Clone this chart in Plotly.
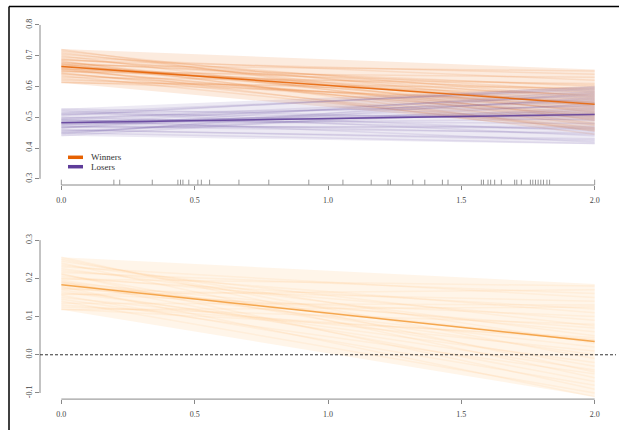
import plotly.graph_objects as go

# ---------------- data ----------------
x_ends = [0.0, 2.0]

series_names = ["Winners", "Losers"]

win_mean = [0.665, 0.542]
lose_mean = [0.482, 0.509]
diff_mean = [0.183, 0.035]

# outer envelopes (lower/upper at x=0 and x=2)
win_band_lo = [0.612, 0.455]
win_band_hi = [0.722, 0.655]
lose_band_lo = [0.440, 0.412]
lose_band_hi = [0.528, 0.600]
diff_band_lo = [0.118, -0.110]
diff_band_hi = [0.255, 0.185]

win_start = [0.665, 0.672, 0.658, 0.680, 0.650, 0.690, 0.640, 0.700, 0.630, 0.675, 0.655, 0.668,
             0.662, 0.685, 0.645, 0.710, 0.620, 0.695, 0.635, 0.678, 0.652, 0.715, 0.615, 0.670,
             0.660, 0.688, 0.642, 0.705, 0.625, 0.674, 0.656, 0.720, 0.612, 0.683, 0.648, 0.667]
win_end = [0.545, 0.520, 0.570, 0.500, 0.590, 0.560, 0.525, 0.480, 0.610, 0.600, 0.495, 0.555,
           0.530, 0.640, 0.465, 0.515, 0.575, 0.620, 0.460, 0.580, 0.510, 0.535, 0.550, 0.650,
           0.445, 0.585, 0.505, 0.565, 0.540, 0.475, 0.605, 0.490, 0.595, 0.455, 0.630, 0.548]

lose_start = [0.482, 0.490, 0.475, 0.500, 0.465, 0.510, 0.455, 0.520, 0.445, 0.495, 0.470, 0.485,
              0.478, 0.505, 0.460, 0.528, 0.440, 0.515, 0.450, 0.492, 0.468, 0.488, 0.476, 0.508,
              0.458, 0.498, 0.472, 0.512, 0.452, 0.484, 0.480, 0.524, 0.448, 0.494, 0.466, 0.486]
lose_end = [0.510, 0.480, 0.540, 0.460, 0.560, 0.500, 0.530, 0.440, 0.580, 0.570, 0.450, 0.520,
            0.495, 0.600, 0.425, 0.490, 0.545, 0.590, 0.415, 0.555, 0.470, 0.505, 0.515, 0.595,
            0.430, 0.550, 0.465, 0.535, 0.525, 0.445, 0.575, 0.455, 0.565, 0.420, 0.585, 0.512]

diff_start = [0.185, 0.195, 0.175, 0.210, 0.160, 0.225, 0.150, 0.240, 0.135, 0.200, 0.170, 0.190,
              0.180, 0.215, 0.155, 0.250, 0.125, 0.230, 0.140, 0.205, 0.165, 0.245, 0.120, 0.198,
              0.178, 0.220, 0.145, 0.235, 0.130, 0.192, 0.172, 0.255, 0.118, 0.212, 0.158, 0.187]
diff_end = [0.035, 0.000, 0.070, -0.030, 0.100, 0.050, 0.010, -0.060, 0.130, 0.120, -0.040, 0.060,
            0.020, 0.160, -0.080, -0.010, 0.080, 0.150, -0.100, 0.090, -0.020, 0.030, 0.045, 0.180,
            -0.110, 0.110, -0.050, 0.075, 0.040, -0.070, 0.140, -0.045, 0.125, -0.090, 0.170, 0.038]

rug_x = [0.0, 0.197, 0.219, 0.341, 0.437, 0.447, 0.456, 0.478, 0.512, 0.525, 0.556, 0.666, 0.778,
         0.928, 1.056, 1.162, 1.225, 1.234, 1.318, 1.363, 1.429, 1.450, 1.575, 1.583, 1.600, 1.610,
         1.625, 1.650, 1.700, 1.708, 1.725, 1.759, 1.768, 1.778, 1.788, 1.798, 1.808, 1.821, 1.831, 2.0]

x_ticks = [0.0, 0.5, 1.0, 1.5, 2.0]
x_ticktext = ["0.0", "0.5", "1.0", "1.5", "2.0"]
y1_ticks = [0.3, 0.4, 0.5, 0.6, 0.7, 0.8]
y1_ticktext = ["0.3", "0.4", "0.5", "0.6", "0.7", "0.8"]
y2_ticks = [-0.1, 0.0, 0.1, 0.2, 0.3]
y2_ticktext = ["-0.1", "0.0", "0.1", "0.2", "0.3"]

# ---------------- styling ----------------
ORANGE = "#e66101"
PURPLE = "#5e3c99"
LIGHT_OR = "#fdb863"
LIGHT_OR_MEAN = "#f4a040"
FONT = "Liberation Serif"
AXC = "#888888"
TXT = "#444444"

W, H = 619, 430
def px(sx):  # screenshot x -> paper fraction
    return sx / W
def py(sy):  # screenshot y -> paper fraction
    return 1 - sy / H

fig = go.Figure()

def add_band(lo, hi, color, xa, ya, op):
    fig.add_trace(go.Scatter(x=x_ends + x_ends[::-1], y=hi + lo[::-1], mode="lines",
                             fill="toself", fillcolor=color, line=dict(width=0), opacity=op,
                             hoverinfo="skip", showlegend=False, xaxis=xa, yaxis=ya))

def add_draws(starts, ends, color, xa, ya, op, w=1.5):
    for s, e in zip(starts, ends):
        fig.add_trace(go.Scatter(x=x_ends, y=[s, e], mode="lines",
                                 line=dict(color=color, width=w), opacity=op,
                                 hoverinfo="skip", showlegend=False, xaxis=xa, yaxis=ya))

add_band(win_band_lo, win_band_hi, ORANGE, "x", "y", 0.13)
add_draws(win_start, win_end, ORANGE, "x", "y", 0.12)
add_band(lose_band_lo, lose_band_hi, PURPLE, "x", "y", 0.11)
add_draws(lose_start, lose_end, PURPLE, "x", "y", 0.11)
fig.add_trace(go.Scatter(x=x_ends, y=win_mean, mode="lines", line=dict(color=ORANGE, width=1.5),
                         opacity=0.85, showlegend=False, name=series_names[0]))
fig.add_trace(go.Scatter(x=x_ends, y=lose_mean, mode="lines", line=dict(color=PURPLE, width=1.5),
                         opacity=0.85, showlegend=False, name=series_names[1]))

add_band(diff_band_lo, diff_band_hi, LIGHT_OR, "x2", "y2", 0.14)
add_draws(diff_start, diff_end, LIGHT_OR, "x2", "y2", 0.11)
fig.add_trace(go.Scatter(x=x_ends, y=diff_mean, mode="lines", line=dict(color=LIGHT_OR_MEAN, width=1.5),
                         opacity=0.9, showlegend=False, xaxis="x2", yaxis="y2"))

xdom = [px(40), px(616)]
common_x = dict(range=[-0.08, 2.08], tickvals=x_ticks, ticktext=x_ticktext, ticks="outside",
                ticklen=4, tickcolor=AXC, showline=False, showgrid=False, zeroline=False,
                tickfont=dict(family=FONT, size=8, color=TXT), domain=xdom, fixedrange=True,
                ticklabelstandoff=3)
fig.update_layout(
    width=W, height=H, margin=dict(l=0, r=0, t=0, b=0),
    paper_bgcolor="white", plot_bgcolor="white", showlegend=False, hovermode=False,
    xaxis=dict(**common_x, anchor="y"),
    xaxis2=dict(**common_x, anchor="y2"),
    yaxis=dict(range=[0.28, 0.82], domain=[py(185), py(18.8)], tickvals=y1_ticks,
               ticktext=y1_ticktext, ticks="outside", ticklen=4, tickcolor=AXC, tickangle=-90,
               showline=False, showgrid=False, zeroline=False, fixedrange=True,
               tickfont=dict(family=FONT, size=8, color=TXT), anchor="x"),
    yaxis2=dict(range=[-0.116, 0.316], domain=[py(399.1), py(234)], tickvals=y2_ticks,
                ticktext=y2_ticktext, ticks="outside", ticklen=4, tickcolor=AXC, tickangle=-90,
                showline=False, showgrid=False, zeroline=False, fixedrange=True,
                tickfont=dict(family=FONT, size=8, color=TXT), anchor="x2"),
)

shapes = []
# axis lines spanning the tick range (R style)
for xr, yr in (("x", "y domain"), ("x2", "y2 domain")):
    shapes.append(dict(type="line", xref=xr, yref=yr, x0=x_ticks[0], x1=x_ticks[-1], y0=0, y1=0,
                       line=dict(color=AXC, width=1)))
shapes.append(dict(type="line", xref="x domain", yref="y", x0=0, x1=0, y0=y1_ticks[0], y1=y1_ticks[-1],
                   line=dict(color=AXC, width=1)))
shapes.append(dict(type="line", xref="x2 domain", yref="y2", x0=0, x1=0, y0=y2_ticks[0], y1=y2_ticks[-1],
                   line=dict(color=AXC, width=1)))
# rug
for r in rug_x:
    shapes.append(dict(type="line", xref="x", yref="y domain", x0=r, x1=r, y0=0, y1=0.032,
                       line=dict(color="#999999", width=1)))
# zero reference line
shapes.append(dict(type="line", xref="x2 domain", yref="y2", x0=0, x1=1, y0=0, y1=0,
                   line=dict(color="#333333", width=1, dash="3px,2px")))
# outer frame: only left and top edges are inside the window
fx, fy = px(9), py(6.5)
shapes.append(dict(type="line", xref="paper", yref="paper", x0=fx, x1=fx, y0=0, y1=fy,
                   line=dict(color="black", width=1.5)))
shapes.append(dict(type="line", xref="paper", yref="paper", x0=fx, x1=1, y0=fy, y1=fy,
                   line=dict(color="black", width=1.5)))
# legend keys
for name, col, ypix in ((series_names[0], ORANGE, 157.3), (series_names[1], PURPLE, 166.7)):
    shapes.append(dict(type="line", xref="paper", yref="paper", x0=px(68), x1=px(83),
                       y0=py(ypix), y1=py(ypix), line=dict(color=col, width=3.5)))
fig.update_layout(shapes=shapes)

annotations = []
for name, ypix in ((series_names[0], 157.3), (series_names[1], 166.7)):
    annotations.append(dict(text=name, xref="paper", yref="paper", x=px(89), y=py(ypix),
                            xanchor="left", yanchor="middle", showarrow=False,
                            font=dict(family=FONT, size=9, color="#333333")))
fig.update_layout(annotations=annotations)

page_js = ("document.documentElement.style.overflow='hidden';"
           "document.body.style.margin='0';document.body.style.overflow='hidden';")
fig.write_html("out.html", post_script=page_js, config={"displayModeBar": False, "staticPlot": True})
